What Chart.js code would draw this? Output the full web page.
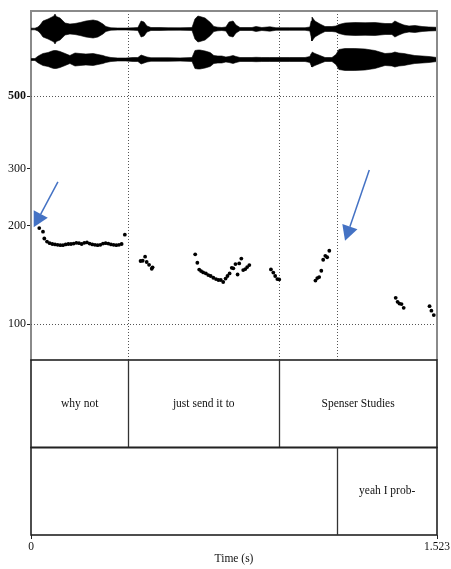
<!DOCTYPE html>
<html><head><meta charset="utf-8">
<script src="https://cdn.jsdelivr.net/npm/chart.js@4/dist/chart.umd.min.js"></script>
<style>html,body{margin:0;padding:0;background:#fff;}canvas{display:block;}</style>
</head><body>
<canvas id="c" width="451" height="569"></canvas>
<script>
// ---- data ----
const xTicks = [0, 1.523];
const pitchTicks = [100, 200, 300, 500];
const dottedHz = [100, 500];

const pitchTimes = [0.031,0.045,
  0.05,0.06,0.07,0.08,0.09,0.10,0.11,0.12,0.13,0.14,0.15,0.16,0.17,0.18,0.19,0.20,0.21,0.22,0.23,0.24,0.25,0.26,0.27,0.28,0.29,0.30,0.31,0.32,0.33,0.34,
  0.352,
  0.411,0.419,0.428,0.434,0.443,0.453,0.456,
  0.616,0.624,0.631,0.638,0.646,0.656,0.665,0.674,0.684,0.694,0.703,0.712,0.721,0.730,0.737,0.745,0.753,0.759,0.767,0.775,0.781,0.789,0.796,0.804,0.811,0.819,
  0.900,0.909,0.916,0.924,0.931,
  1.067,1.074,1.081,1.089,1.096,1.104,1.111,1.119,
  1.368,1.375,1.382,1.390,1.398,
  1.495,1.502,1.511];
const pitchHz = [197,192,
  183,179,177,176,175.5,175,174.5,174.5,175.5,176,176,176.5,177.5,177,176,177.5,178,176.5,175.5,175,174.5,175,176.5,177,176.5,175.5,175,174.5,175,176,
  188,
  156.1,156.4,160.9,155,152,147.8,149.3,
  163.6,154.2,146.9,145.4,144.0,143.0,141.3,140.4,138.7,137.4,136.5,136.5,134.6,137.9,140.4,143.0,148.8,148.2,152.8,141.9,153.5,158.8,146.4,147.5,149.6,151.7,
  147.1,143.9,140.4,137.4,137.1,
  136.0,138.4,139.4,145.7,157.5,161.9,160.3,167.8,
  120.4,117.0,115.6,115.2,112.2,
  113.5,109.9,106.6];

const waveTimes = [0,0.015,0.026,0.034,0.045,0.064,0.079,0.086,0.090,0.095,0.109,0.128,0.146,0.165,0.184,0.206,0.233,0.251,0.270,0.281,0.300,0.326,0.356,0.383,0.401,0.413,0.424,0.435,0.450,0.484,0.514,0.559,0.604,0.615,0.626,0.634,0.653,0.672,0.686,0.701,0.716,0.731,0.743,0.758,0.769,0.784,0.829,0.844,0.866,0.896,0.919,0.971,1.028,1.046,1.051,1.054,1.065,1.084,1.103,1.129,1.144,1.155,1.178,1.215,1.253,1.290,1.328,1.354,1.365,1.380,1.399,1.418,1.440,1.467,1.493,1.523];
const waveCh1 = [0.8,0.8,2.0,4,8,10,12,13,15,12.5,11,6,5,5.5,6.5,8,9,8,5,2.5,1.2,1,1,1.2,1.5,8,7,3,1.5,1.5,1.3,1.2,1.5,10,13,12.5,11,6.7,2.5,1.8,1.5,2,7,8,4,1.5,1.5,2.5,1.5,2.2,1.3,1.3,1.3,2,8,12,8,5,2.5,2.5,3,4.5,6,6.5,6.3,6.5,5.5,5.5,8,6,4,3,3.5,2.5,2,1.7];
const waveCh2 = [1.0,1.0,3.3,4.5,6,7,8.5,9,9,9,8,6,4,6.5,6,5.5,6,5,4,3,2,1.5,1.5,2,2,4.5,3.5,2.5,1.8,1.8,1.8,1.6,2,9,9.5,9.5,8.5,7,4,3.5,3.5,2.5,3,4,3,2,2,2.2,2,2,2,2,2,3,6,7.5,6,4,2,2,5,10,11,11,10.5,9,6,6.5,7.5,6.5,6,5,4,3.5,3,2];

const tier1Bounds = [0.365, 0.931];
const tier1Labels = ['why not', 'just send it to', 'Spenser Studies'];
const tier2Bounds = [1.149];
const tier2Labels = ['', 'yeah I prob-'];

const arrowFrom = [[0.101, 273], [1.269, 297]];
const arrowTo   = [[0.010, 198], [1.178, 180]];

// ---- layout / style constants ----
const FONT = "'Liberation Serif', 'Times New Roman', serif";
const WAVE_OFFSETS = [0, -30.5];
const ARROW_COLOR = '#4472C4';

function waveBand(times, amps, off, sign) {
  return times.map((t, i) => ({x: t, y: off + sign * amps[i]}));
}
function waveDs(data, fill) {
  return {data, yAxisID: 'yWave', fill, backgroundColor: '#000', borderColor: '#000',
    borderWidth: 0.6, pointRadius: 0, tension: 0, order: 2};
}

const praatPlugin = {
  id: 'praat',
  beforeDatasetsDraw(chart) {
    const {ctx, scales: {x, y}} = chart;
    ctx.save();
    ctx.strokeStyle = '#555'; ctx.lineWidth = 1; ctx.setLineDash([1, 2]);
    dottedHz.forEach(h => {
      const py = Math.round(y.getPixelForValue(h)) + 0.5;
      ctx.beginPath(); ctx.moveTo(x.left, py); ctx.lineTo(x.right, py); ctx.stroke();
    });
    [...tier1Bounds, ...tier2Bounds].forEach(t => {
      const px = Math.round(x.getPixelForValue(t)) + 0.5;
      ctx.beginPath(); ctx.moveTo(px, y.top); ctx.lineTo(px, y.bottom); ctx.stroke();
    });
    ctx.restore();
  },
  afterDatasetsDraw(chart) {
    const {ctx, scales: {x, y, yTier}} = chart;
    ctx.save();
    ctx.strokeStyle = '#8a8a8a'; ctx.lineWidth = 2;
    ctx.beginPath(); ctx.moveTo(x.left, y.top); ctx.lineTo(x.right, y.top); ctx.lineTo(x.right, y.bottom); ctx.stroke();
    const tiers = [
      {bounds: tier1Bounds, labels: tier1Labels, lo: 1, hi: 2},
      {bounds: tier2Bounds, labels: tier2Labels, lo: 0, hi: 1}
    ];
    ctx.font = '11.5px ' + FONT;
    ctx.textAlign = 'center'; ctx.textBaseline = 'middle';
    tiers.forEach(tr => {
      const yt = yTier.getPixelForValue(tr.hi), yb = yTier.getPixelForValue(tr.lo);
      ctx.strokeStyle = '#222'; ctx.lineWidth = 1.6;
      ctx.strokeRect(x.left, yt, x.right - x.left, yb - yt);
      ctx.lineWidth = 1.3; ctx.strokeStyle = '#333';
      tr.bounds.forEach(b => {
        const px = Math.round(x.getPixelForValue(b)) + 0.5;
        ctx.beginPath(); ctx.moveTo(px, yt); ctx.lineTo(px, yb); ctx.stroke();
      });
      const edges = [x.min, ...tr.bounds, x.max];
      ctx.fillStyle = '#111';
      tr.labels.forEach((lab, i) => {
        if (!lab) return;
        const cx = (x.getPixelForValue(edges[i]) + x.getPixelForValue(edges[i + 1])) / 2;
        ctx.fillText(lab, cx, (yt + yb) / 2);
      });
    });
    ctx.strokeStyle = ARROW_COLOR; ctx.fillStyle = ARROW_COLOR; ctx.lineWidth = 1.5;
    arrowFrom.forEach((f, i) => {
      const t = arrowTo[i];
      const x0 = x.getPixelForValue(f[0]), y0 = y.getPixelForValue(f[1]);
      const x1 = x.getPixelForValue(t[0]), y1 = y.getPixelForValue(t[1]);
      const len = Math.hypot(x1 - x0, y1 - y0);
      const dx = (x1 - x0) / len, dy = (y1 - y0) / len;
      const hl = 15, hw = 16;
      const bx = x1 - dx * hl, by = y1 - dy * hl;
      ctx.beginPath(); ctx.moveTo(x0, y0); ctx.lineTo(bx, by); ctx.stroke();
      ctx.beginPath(); ctx.moveTo(x1, y1);
      ctx.lineTo(bx - dy * hw / 2, by + dx * hw / 2);
      ctx.lineTo(bx + dy * hw / 2, by - dx * hw / 2);
      ctx.closePath(); ctx.fill();
    });
    ctx.restore();
  }
};

new Chart(document.getElementById('c'), {
  type: 'line',
  data: {
    datasets: [
      waveDs(waveBand(waveTimes, waveCh1, WAVE_OFFSETS[0], 1), '+1'),
      waveDs(waveBand(waveTimes, waveCh1, WAVE_OFFSETS[0], -1), false),
      waveDs(waveBand(waveTimes, waveCh2, WAVE_OFFSETS[1], 1), '+1'),
      waveDs(waveBand(waveTimes, waveCh2, WAVE_OFFSETS[1], -1), false),
      {
        data: pitchTimes.map((t, i) => ({x: t, y: pitchHz[i]})),
        yAxisID: 'y', showLine: false, pointRadius: 1.9, pointBackgroundColor: '#000',
        pointBorderWidth: 0, borderColor: '#000', fill: false, order: 1
      }
    ]
  },
  options: {
    responsive: false, animation: false, devicePixelRatio: 1,
    layout: {padding: {top: 11, right: 14, left: 0, bottom: 0}},
    plugins: {legend: {display: false}, tooltip: {enabled: false}},
    scales: {
      x: {
        type: 'linear', position: 'bottom', min: 0, max: 1.523,
        afterBuildTicks: s => { s.ticks = xTicks.map(v => ({value: v})); },
        afterFit: s => { s.height = 34; },
        ticks: {callback: v => String(v), font: {family: FONT, size: 11.5}, color: '#111', padding: 1, maxRotation: 0, autoSkip: false},
        grid: {drawOnChartArea: false, drawTicks: true, tickLength: 4, tickColor: '#222', color: '#222'},
        border: {display: false},
        title: {display: true, text: 'Time (s)', font: {family: FONT, size: 11.5}, color: '#111', padding: {top: 0, bottom: 3}}
      },
      y: {
        type: 'logarithmic', position: 'left', stack: 'v', stackWeight: 349, weight: 2,
        min: 77.6, max: 912,
        afterBuildTicks: s => { s.ticks = pitchTicks.map(v => ({value: v})); },
        afterFit: s => { s.width = 31; },
        ticks: {
          callback: v => String(v), color: '#111', padding: 1, autoSkip: false,
          font: ctx => ({family: FONT, size: 12, weight: (ctx.tick && ctx.tick.value === 500) ? 'bold' : 'normal'})
        },
        grid: {drawOnChartArea: false, drawTicks: true, tickLength: 4, tickColor: '#222', color: '#222'},
        border: {display: true, color: '#8a8a8a', width: 2}
      },
      yTier: {
        type: 'linear', position: 'left', stack: 'v', stackWeight: 175, weight: 1,
        min: 0, max: 2,
        afterFit: s => { s.width = 31; },
        ticks: {display: false}, grid: {display: false}, border: {display: false}
      },
      yWave: {
        type: 'linear', position: 'left', display: false, min: -506, max: 18
      }
    }
  },
  plugins: [praatPlugin]
});
</script>
</body></html>
